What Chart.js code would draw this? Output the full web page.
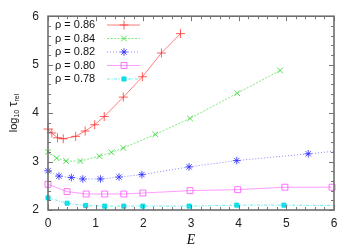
<!DOCTYPE html>
<html>
<head>
<meta charset="utf-8">
<script src="https://cdn.jsdelivr.net/npm/chart.js@4"></script>
<style>
  html, body { margin: 0; padding: 0; background: #fff; }
  #wrap { width: 354px; height: 248px; }
</style>
</head>
<body>
<div id="wrap"><canvas id="chart" width="354" height="248"></canvas></div>
<script>
// rho = 0.86
const eRho86 = [0, 0.08, 0.2, 0.32, 0.58, 0.78, 0.98, 1.18, 1.58, 1.98, 2.38, 2.78];
const tRho86 = [3.67, 3.59, 3.49, 3.47, 3.52, 3.63, 3.76, 3.93, 4.33, 4.75, 5.24, 5.64];
// rho = 0.84
const eRho84 = [0, 0.18, 0.38, 0.68, 1.08, 1.33, 1.58, 2.25, 2.98, 3.97, 4.87];
const tRho84 = [3.20, 3.07, 3.01, 3.01, 3.11, 3.19, 3.28, 3.56, 3.89, 4.41, 4.88];
// rho = 0.82
const eRho82 = [0, 0.23, 0.49, 0.73, 1.10, 1.49, 1.97, 2.96, 3.96, 5.46, 6.5];
const tRho82 = [2.81, 2.70, 2.67, 2.64, 2.64, 2.68, 2.73, 2.89, 3.02, 3.16, 3.26];
// rho = 0.80
const eRho80 = [0, 0.40, 0.80, 1.19, 1.59, 1.99, 2.98, 3.98, 4.97, 5.96];
const tRho80 = [2.53, 2.38, 2.33, 2.33, 2.33, 2.35, 2.40, 2.42, 2.47, 2.47];
// rho = 0.78
const eRho78 = [0, 0.40, 0.79, 1.19, 1.59, 1.99, 2.96, 3.96, 4.95, 6.5];
const tRho78 = [2.25, 2.14, 2.09, 2.08, 2.08, 2.08, 2.08, 2.10, 2.10, 2.09];

const seriesLabels = ['ρ = 0.86', 'ρ = 0.84', 'ρ = 0.82', 'ρ = 0.80', 'ρ = 0.78'];
const xTicks = [0, 1, 2, 3, 4, 5, 6];
const yTicks = [2, 3, 4, 5, 6];

const pairs = (xs, ys) => xs.map((x, i) => ({ x: x, y: ys[i] }));

const edgeClip = { left: 8, top: 8, right: 0, bottom: 8 };

const datasets = [
    { label: seriesLabels[0], data: pairs(eRho86, tRho86), borderColor: 'rgba(255,40,40,0.6)', pointBorderColor: 'rgba(255,40,40,0.75)',
      pointBackgroundColor: 'rgba(0,0,0,0)', pointStyle: 'cross', pointRadius: 4.5, borderDash: [], clip: false },
    { label: seriesLabels[1], data: pairs(eRho84, tRho84), borderColor: 'rgba(40,220,40,0.6)', pointBorderColor: 'rgba(30,210,30,0.75)',
      pointBackgroundColor: 'rgba(0,0,0,0)', pointStyle: 'crossRot', pointRadius: 4, borderDash: [2, 1.5], clip: false },
    { label: seriesLabels[2], data: pairs(eRho82, tRho82), borderColor: 'rgba(60,60,255,0.6)', pointBorderColor: 'rgba(40,40,255,0.8)',
      pointBackgroundColor: 'rgba(0,0,0,0)', pointStyle: 'star', pointRadius: 3.8, borderDash: [1, 2], clip: edgeClip },
    { label: seriesLabels[3], data: pairs(eRho80, tRho80), borderColor: 'rgba(255,90,255,0.6)', pointBorderColor: 'rgba(255,80,255,0.8)',
      pointBackgroundColor: 'rgba(0,0,0,0)', pointStyle: 'rect', pointRadius: 4.2, borderDash: [], clip: false },
    { label: seriesLabels[4], data: pairs(eRho78, tRho78), borderColor: 'rgba(0,225,225,0.6)', pointBorderColor: 'rgba(0,220,230,0.9)',
      pointBackgroundColor: 'rgba(0,220,230,0.9)', pointStyle: 'rect', pointRadius: 2.9, borderDash: [3, 1.5, 1, 1.5], clip: edgeClip }
];
datasets.forEach(d => {
    d.borderWidth = 1;
    d.pointBorderWidth = 1;
    d.tension = 0;
    d.fill = false;
});

// frame, inward ticks on all sides, axis titles and the inset legend
const decor = {
    id: 'decor',
    afterDraw(chart) {
        const { ctx, chartArea: a, scales: { x, y } } = chart;
        ctx.save();
        ctx.strokeStyle = '#777';
        ctx.lineWidth = 1;
        for (let i = 0; i <= 30; i++) {
            const v = i * 0.2;
            const px = Math.round(x.getPixelForValue(v)) + 0.5;
            const len = i % 5 === 0 ? 5 : 3;
            ctx.beginPath();
            ctx.moveTo(px, a.bottom); ctx.lineTo(px, a.bottom - len);
            ctx.moveTo(px, a.top); ctx.lineTo(px, a.top + len);
            ctx.stroke();
        }
        for (let i = 0; i <= 20; i++) {
            const v = 2 + i * 0.2;
            const py = Math.round(y.getPixelForValue(v)) + 0.5;
            const len = i % 5 === 0 ? 5 : 3;
            ctx.beginPath();
            ctx.moveTo(a.left, py); ctx.lineTo(a.left + len, py);
            ctx.moveTo(a.right, py); ctx.lineTo(a.right - len, py);
            ctx.stroke();
        }
        ctx.lineWidth = 1.6;
        ctx.strokeStyle = '#6e6e6e';
        ctx.strokeRect(a.left, a.top, a.right - a.left, a.bottom - a.top);

        // x title
        ctx.fillStyle = '#111';
        ctx.font = 'italic 14px "Liberation Serif", serif';
        ctx.textAlign = 'center';
        ctx.textBaseline = 'middle';
        ctx.fillText('E', (a.left + a.right) / 2, 240);

        // y title: log10 tau_rel
        ctx.save();
        ctx.translate(13, 113);
        ctx.rotate(-Math.PI / 2);
        ctx.textAlign = 'left';
        ctx.textBaseline = 'alphabetic';
        const big = '11px "Liberation Sans", sans-serif';
        const small = '7px "Liberation Sans", sans-serif';
        const parts = [['log', big, 0], ['10', small, 2], [' ', big, 0], ['τ', '13px "Liberation Sans", sans-serif', 0], ['rel', small, 2]];
        let w = 0;
        parts.forEach(p => { ctx.font = p[1]; w += ctx.measureText(p[0]).width; });
        let cx = -w / 2;
        parts.forEach(p => {
            ctx.font = p[1];
            ctx.fillText(p[0], cx, 4 + p[2]);
            cx += ctx.measureText(p[0]).width;
        });
        ctx.restore();

        // legend
        ctx.font = '11px "Liberation Sans", sans-serif';
        ctx.textAlign = 'left';
        ctx.textBaseline = 'middle';
        chart.data.datasets.forEach((ds, i) => {
            const ly = 25 + i * 13.5;
            ctx.fillStyle = '#111';
            ctx.fillText(ds.label, 55, ly);
            ctx.save();
            ctx.strokeStyle = ds.borderColor;
            ctx.lineWidth = 1;
            ctx.setLineDash(ds.borderDash);
            ctx.beginPath();
            ctx.moveTo(107, ly); ctx.lineTo(140, ly);
            ctx.stroke();
            ctx.setLineDash([]);
            ctx.strokeStyle = ds.pointBorderColor;
            ctx.fillStyle = ds.pointBackgroundColor;
            Chart.helpers.drawPoint(ctx, { pointStyle: ds.pointStyle, radius: ds.pointRadius, rotation: 0, borderWidth: 1 }, 124, ly);
            ctx.restore();
        });
        ctx.restore();
    }
};

new Chart(document.getElementById('chart'), {
    type: 'line',
    data: { datasets: datasets },
    options: {
        responsive: false,
        animation: false,
        layout: { padding: { top: 15, right: 20, left: 0, bottom: 0 } },
        plugins: { legend: { display: false }, tooltip: { enabled: false } },
        scales: {
            x: {
                type: 'linear', min: 0, max: 6,
                afterFit: s => { s.height = 38; },
                afterBuildTicks: s => { s.ticks = xTicks.map(v => ({ value: v })); },
                grid: { display: false, drawTicks: false },
                border: { display: false },
                ticks: { padding: 6, color: '#222', font: { family: 'Liberation Sans', size: 12 } }
            },
            y: {
                type: 'linear', min: 2, max: 6,
                afterFit: s => { s.width = 48; },
                afterBuildTicks: s => { s.ticks = yTicks.map(v => ({ value: v })); },
                grid: { display: false, drawTicks: false },
                border: { display: false },
                ticks: { padding: 9, color: '#222', font: { family: 'Liberation Sans', size: 12 } }
            }
        }
    },
    plugins: [decor]
});
</script>
</body>
</html>
